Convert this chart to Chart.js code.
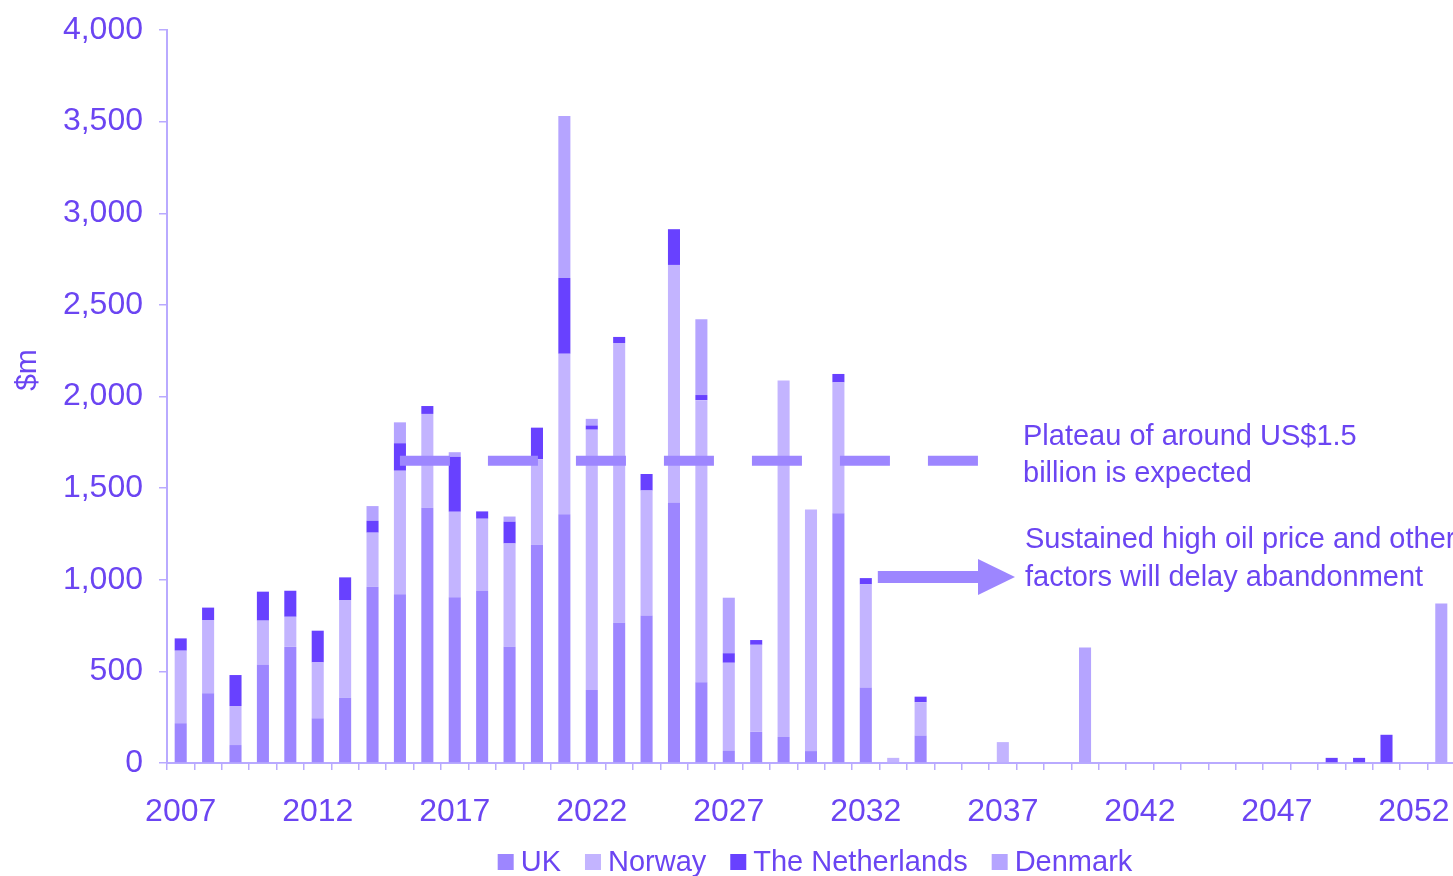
<!DOCTYPE html>
<html>
<head>
<meta charset="utf-8">
<script src="https://cdn.jsdelivr.net/npm/chart.js@4/dist/chart.umd.min.js"></script>
<style>
  html, body { margin: 0; padding: 0; background: #ffffff; overflow: hidden; }
  #wrap { width: 1456px; height: 876px; }
</style>
</head>
<body>
<div id="wrap"><canvas id="c" width="1456" height="876"></canvas></div>
<script>
// ---- Data (US$ million) ----
const years = ['2007','2008','2009','2010','2011','2012','2013','2014','2015','2016',
  '2017','2018','2019','2020','2021','2022','2023','2024','2025','2026',
  '2027','2028','2029','2030','2031','2032','2033','2034','2035','2036',
  '2037','2038','2039','2040','2041','2042','2043','2044','2045','2046',
  '2047','2048','2049','2050','2051','2052','2053'];
const xTickLabels = ['2007','2012','2017','2022','2027','2032','2037','2042','2047','2052'];
const yTicks = [0, 500, 1000, 1500, 2000, 2500, 3000, 3500, 4000];

const uk = [217,380,98,538,635,244,356,962,921,1393,
  904,938,635,1191,1357,398,765,805,1421,440,
  66,170,142,65,1363,412,0,150,0,0,
  0,0,0,0,0,0,0,0,0,0,
  0,0,0,0,0,0,0];
const norway = [396,400,213,239,163,305,533,295,674,512,
  467,395,563,467,876,1421,1527,682,1297,1540,
  481,475,1945,1318,714,563,28,182,0,0,
  114,0,0,0,0,0,0,0,0,0,
  0,0,0,0,0,0,0];
const netherlands = [67,68,169,158,142,173,124,65,150,43,
  300,40,119,172,414,23,33,90,195,28,
  52,26,0,0,46,34,0,30,0,0,
  0,0,0,0,0,0,0,0,0,0,
  0,0,28,28,154,0,0];
const denmark = [0,0,0,0,0,0,0,80,114,0,
  25,0,28,0,884,36,0,0,0,414,
  303,0,0,0,0,0,0,0,0,0,
  0,0,0,630,0,0,0,0,0,0,
  0,0,0,0,0,0,870];

const plateauValue = 1650;
const arrowValue = 1015;
const notes = [
  ['Plateau of around US$1.5', 'billion is expected'],
  ['Sustained high oil price and other', 'factors will delay abandonment']
];

// ---- Styles ----
const TXT = '#6B45F2';
const AXIS = '#B9AAFF';
const C_UK = '#9D86FF', C_NO = '#C3B4FF', C_NL = '#6841FF', C_DK = '#B5A4FF';
const FONT = '"Liberation Sans", Arial, sans-serif';

const overlay = {
  id: 'overlay',
  afterDatasetsDraw(chart) {
    const ctx = chart.ctx, xs = chart.scales.x, ys = chart.scales.y;
    ctx.save();
    // dashed plateau line
    const yP = ys.getPixelForValue(plateauValue);
    const x0 = xs.getPixelForValue(8);
    ctx.strokeStyle = C_UK;
    ctx.lineWidth = 10;
    ctx.setLineDash([50, 38]);
    ctx.beginPath();
    ctx.moveTo(x0, yP);
    ctx.lineTo(x0 + 578, yP);
    ctx.stroke();
    ctx.setLineDash([]);
    // arrow
    const yA = ys.getPixelForValue(arrowValue);
    const ax0 = xs.getPixelForValue(25) + 12;
    const headX = 978, tipX = 1015;
    ctx.fillStyle = C_UK;
    ctx.fillRect(ax0, yA - 6, headX - ax0 + 1, 12);
    ctx.beginPath();
    ctx.moveTo(headX, yA - 18);
    ctx.lineTo(tipX, yA);
    ctx.lineTo(headX, yA + 18);
    ctx.closePath();
    ctx.fill();
    // notes
    ctx.fillStyle = TXT;
    ctx.font = '29px ' + FONT;
    ctx.textAlign = 'left';
    ctx.textBaseline = 'middle';
    ctx.fillText(notes[0][0], 1023, 437);
    ctx.fillText(notes[0][1], 1023, 474);
    ctx.fillText(notes[1][0], 1025, 540);
    ctx.fillText(notes[1][1], 1025, 578);
    // y-axis title
    ctx.save();
    ctx.translate(28, 370);
    ctx.rotate(-Math.PI / 2);
    ctx.textAlign = 'center';
    ctx.font = '30px ' + FONT;
    ctx.fillText('$m', 0, 0);
    ctx.restore();
    // legend
    ctx.font = '29px ' + FONT;
    const items = chart.data.datasets.map(d => ({ label: d.label, color: d.backgroundColor }));
    const sw = 16, gap1 = 7, gap2 = 24;
    let total = 0;
    items.forEach((it, i) => {
      total += sw + gap1 + ctx.measureText(it.label).width + (i < items.length - 1 ? gap2 : 0);
    });
    let x = 815 - total / 2;
    const yL = 862;
    items.forEach(it => {
      ctx.fillStyle = it.color;
      ctx.fillRect(x, yL - 8, sw, sw);
      x += sw + gap1;
      ctx.fillStyle = TXT;
      ctx.fillText(it.label, x, yL + 1);
      x += ctx.measureText(it.label).width + gap2;
    });
    ctx.restore();
  }
};

const mk = (label, data, color) => ({
  label, data, backgroundColor: color, borderWidth: 0,
  barPercentage: 0.44, categoryPercentage: 1.0, stack: 's'
});

new Chart(document.getElementById('c'), {
  type: 'bar',
  data: {
    labels: years,
    datasets: [
      mk('UK', uk, C_UK),
      mk('Norway', norway, C_NO),
      mk('The Netherlands', netherlands, C_NL),
      mk('Denmark', denmark, C_DK)
    ]
  },
  options: {
    responsive: false,
    animation: false,
    layout: { padding: { top: 30, right: 1, left: 0, bottom: 0 } },
    plugins: { legend: { display: false }, tooltip: { enabled: false } },
    scales: {
      x: {
        stacked: true,
        afterFit(s) { s.height = 113; s.paddingLeft = 0; s.paddingRight = 0; },
        border: { display: true, color: AXIS, width: 2 },
        grid: { display: true, offset: true, drawOnChartArea: false, drawTicks: true, tickLength: 7, color: AXIS, lineWidth: 1.5 },
        ticks: {
          autoSkip: false, maxRotation: 0, minRotation: 0, padding: 23,
          color: TXT, font: { family: FONT, size: 32 },
          callback(v) { const l = years[v]; return xTickLabels.includes(l) ? l : ''; }
        }
      },
      y: {
        stacked: true,
        min: 0, max: 4000,
        afterFit(s) { s.width = 167; s.paddingTop = 0; s.paddingBottom = 0; },
        afterBuildTicks(s) { s.ticks = yTicks.map(v => ({ value: v })); },
        border: { display: true, color: AXIS, width: 2 },
        grid: { display: true, drawOnChartArea: false, drawTicks: true, tickLength: 8, color: AXIS, lineWidth: 1.5 },
        ticks: {
          padding: 16, color: TXT, font: { family: FONT, size: 32 },
          callback(v) { return v.toLocaleString('en-US'); }
        }
      }
    }
  },
  plugins: [overlay]
});
</script>
</body>
</html>
